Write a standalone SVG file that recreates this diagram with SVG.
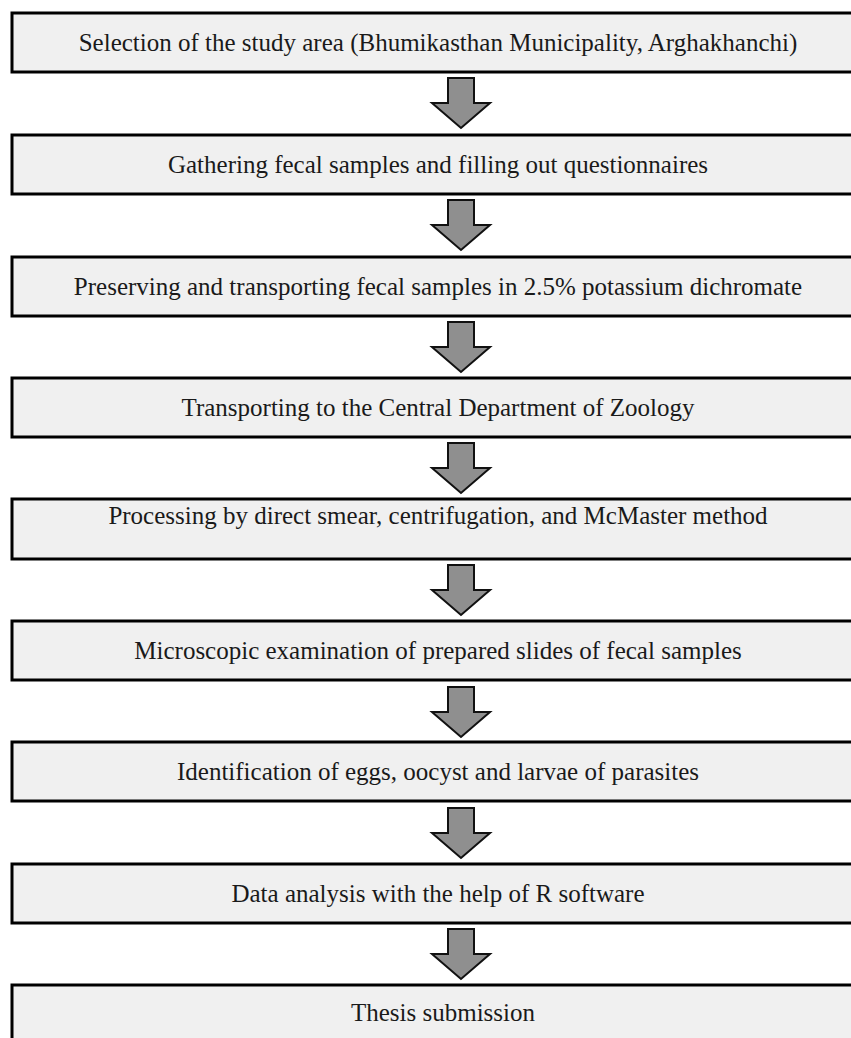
<svg xmlns="http://www.w3.org/2000/svg" width="851" height="1038" viewBox="0 0 851 1038">
<defs>
<style>
.box{fill:#f0f0f0;stroke:#000;stroke-width:3}
.t{font-family:"Liberation Serif","Times New Roman",serif;font-size:25px;fill:#1a1a1a;text-anchor:middle}
.arr{fill:#8f8f8f;stroke:#111;stroke-width:2;stroke-linejoin:miter}
</style>
<path id="a" class="arr" d="M-13,0 H13 V25 H29 L0,50 L-29,25 H-13 Z"/>
</defs>
<rect width="851" height="1038" fill="#fff"/>
<g id="connectors">
<use href="#a" x="461" y="78"/>
<use href="#a" x="461" y="200"/>
<use href="#a" x="461" y="322"/>
<use href="#a" x="461" y="443"/>
<use href="#a" x="461" y="565"/>
<use href="#a" x="461" y="687"/>
<use href="#a" x="461" y="808"/>
<use href="#a" x="461" y="929"/>
</g>
<g id="n1"><rect class="box" x="12" y="13" width="850" height="59"/><text class="t" x="438" y="51">Selection of the study area (Bhumikasthan Municipality, Arghakhanchi)</text></g>
<g id="n2"><rect class="box" x="12" y="135" width="850" height="59"/><text class="t" x="438" y="173">Gathering fecal samples and filling out questionnaires</text></g>
<g id="n3"><rect class="box" x="12" y="257" width="850" height="59"/><text class="t" x="438" y="295">Preserving and transporting fecal samples in 2.5% potassium dichromate</text></g>
<g id="n4"><rect class="box" x="12" y="378" width="850" height="59"/><text class="t" x="438" y="416">Transporting to the Central Department of Zoology</text></g>
<g id="n5"><rect class="box" x="12" y="499" width="850" height="60"/><text class="t" x="438" y="524">Processing by direct smear, centrifugation, and McMaster method</text></g>
<g id="n6"><rect class="box" x="12" y="621" width="850" height="59"/><text class="t" x="438" y="659">Microscopic examination of prepared slides of fecal samples</text></g>
<g id="n7"><rect class="box" x="12" y="742" width="850" height="59"/><text class="t" x="438" y="780">Identification of eggs, oocyst and larvae of parasites</text></g>
<g id="n8"><rect class="box" x="12" y="864" width="850" height="59"/><text class="t" x="438" y="902">Data analysis with the help of R software</text></g>
<g id="n9"><rect class="box" x="12" y="985" width="850" height="70"/><text class="t" x="443" y="1021">Thesis submission</text></g>
</svg>
